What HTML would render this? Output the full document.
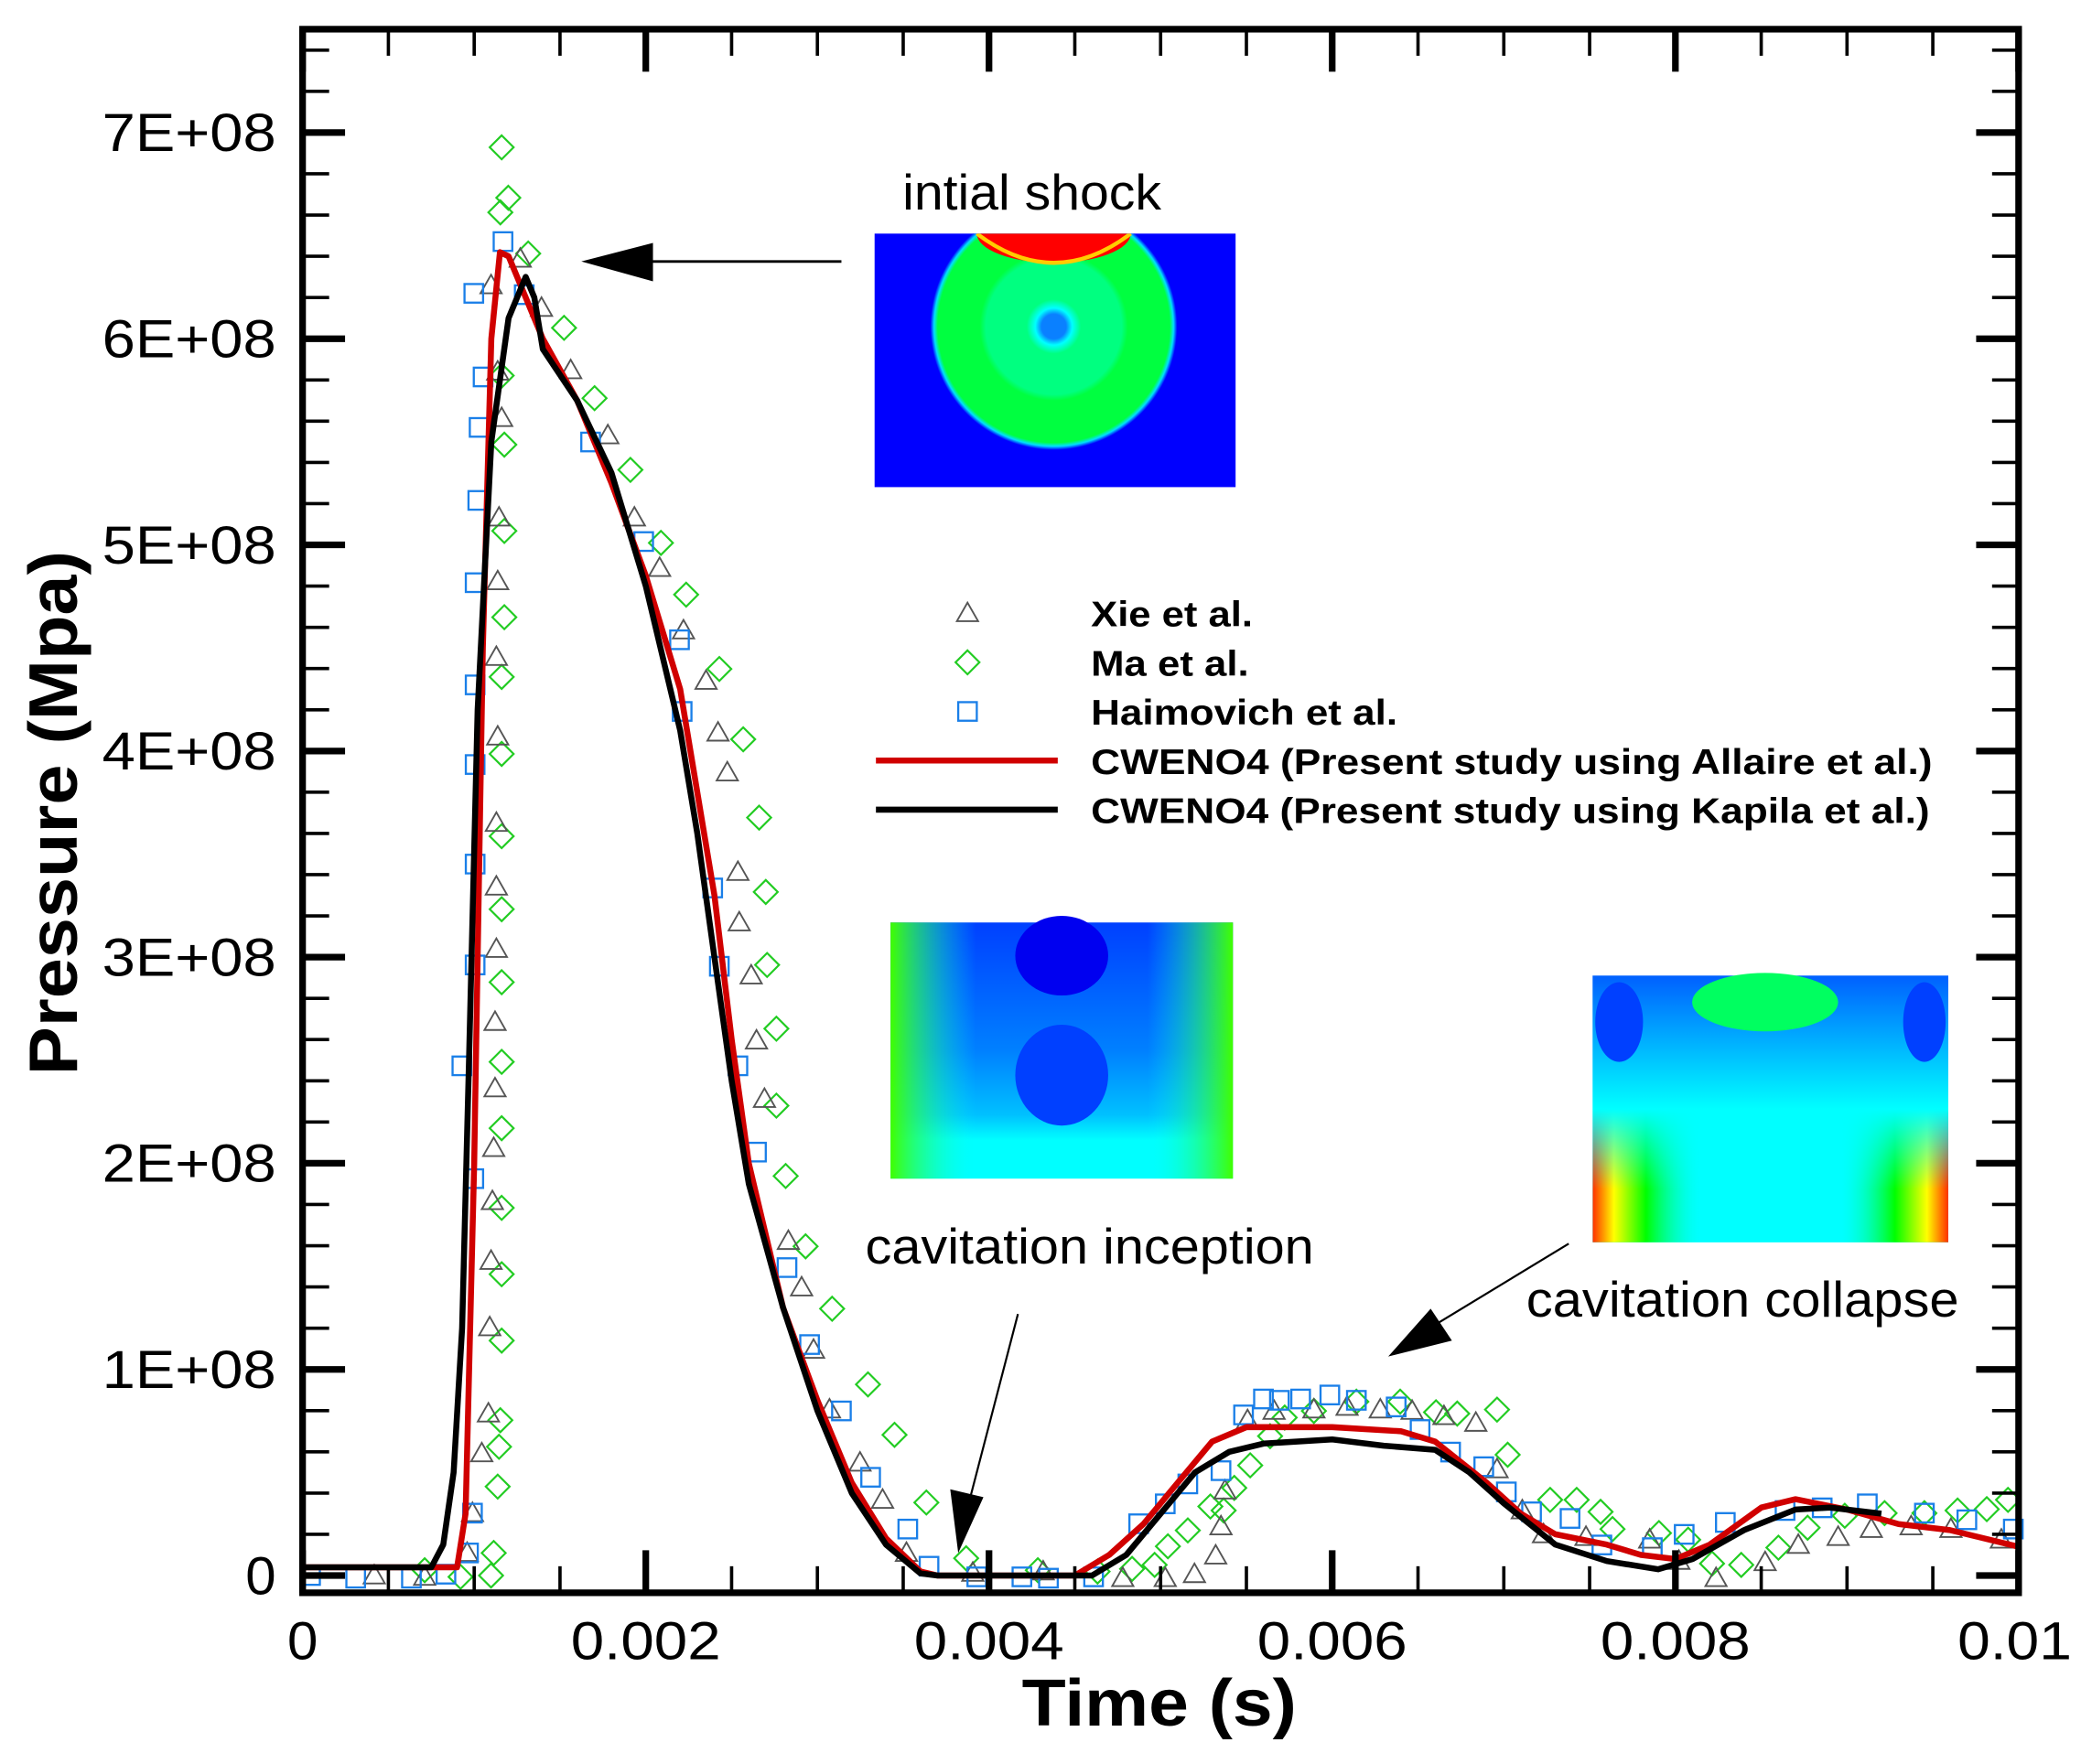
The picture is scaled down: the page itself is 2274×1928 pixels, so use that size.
<!DOCTYPE html>
<html><head><meta charset="utf-8"><style>
html,body{margin:0;padding:0;background:#fff;}
svg{display:block;}
text{font-family:"Liberation Sans",sans-serif;}
</style></head><body>
<svg id="s" width="2274" height="1928" viewBox="0 0 1568 1329" preserveAspectRatio="none" xmlns="http://www.w3.org/2000/svg">
<defs>
<radialGradient id="g1" cx="0.5" cy="0.5" r="0.5">
<stop offset="0" stop-color="#0a80ff"/><stop offset="0.1" stop-color="#0a80ff"/><stop offset="0.15" stop-color="#00ffff"/><stop offset="0.22" stop-color="#00ff80"/><stop offset="0.55" stop-color="#00ff80"/><stop offset="0.6" stop-color="#00ff40"/><stop offset="0.94" stop-color="#00ff40"/><stop offset="0.97" stop-color="#00e0ff"/><stop offset="1" stop-color="#0000ff"/>
</radialGradient>
<linearGradient id="g2" x1="0" y1="0" x2="0" y2="1">
<stop offset="0" stop-color="#0040ff"/><stop offset="0.5" stop-color="#0080ff"/><stop offset="0.75" stop-color="#00c0ff"/><stop offset="0.85" stop-color="#00ffff"/><stop offset="1" stop-color="#00ffff"/>
</linearGradient>
<linearGradient id="g2s" x1="0" y1="0" x2="1" y2="0">
<stop offset="0" stop-color="#40ff00" stop-opacity="1"/><stop offset="0.25" stop-color="#00ffff" stop-opacity="0"/><stop offset="0.75" stop-color="#00ffff" stop-opacity="0"/><stop offset="1" stop-color="#40ff00" stop-opacity="1"/>
</linearGradient>
<linearGradient id="g3" x1="0" y1="0" x2="0" y2="1">
<stop offset="0" stop-color="#0060ff"/><stop offset="0.3" stop-color="#00c0ff"/><stop offset="0.5" stop-color="#00ffff"/><stop offset="1" stop-color="#00ffff"/>
</linearGradient>
<linearGradient id="g3s" x1="0" y1="0" x2="1" y2="0">
<stop offset="0" stop-color="#ff3000"/><stop offset="0.06" stop-color="#ffff00"/><stop offset="0.15" stop-color="#00ff00"/><stop offset="0.3" stop-color="#00ffcc" stop-opacity="0"/><stop offset="0.7" stop-color="#00ffcc" stop-opacity="0"/><stop offset="0.85" stop-color="#00ff00"/><stop offset="0.94" stop-color="#ffff00"/><stop offset="1" stop-color="#ff3000"/>
</linearGradient>
<linearGradient id="g3m" x1="0" y1="0" x2="0" y2="1">
<stop offset="0" stop-color="#fff" stop-opacity="0"/><stop offset="0.5" stop-color="#fff" stop-opacity="0"/><stop offset="0.8" stop-color="#fff" stop-opacity="1"/><stop offset="1" stop-color="#fff" stop-opacity="1"/>
</linearGradient>
<mask id="m3"><rect x="1200" y="735" width="268" height="201" fill="url(#g3m)"/></mask>
<clipPath id="c1"><rect x="659" y="176" width="272" height="191"/></clipPath>
</defs>
<rect x="659" y="176" width="272" height="191" fill="#0000ff"/>
<g clip-path="url(#c1)">
<circle cx="794" cy="246" r="93" fill="url(#g1)"/>
<ellipse cx="794" cy="176" rx="58" ry="22" fill="#ff0000"/>
<path d="M736,176 Q794,220 852,176" fill="none" stroke="#ffcc00" stroke-width="3"/>
</g>
<rect x="671" y="695" width="258" height="193" fill="url(#g2)"/>
<rect x="671" y="695" width="258" height="193" fill="url(#g2s)"/>
<ellipse cx="800" cy="720" rx="35" ry="30" fill="#0000f0"/>
<ellipse cx="800" cy="810" rx="35" ry="38" fill="#0040ff"/>
<rect x="1200" y="735" width="268" height="201" fill="url(#g3)"/>
<rect x="1200" y="735" width="268" height="201" fill="url(#g3s)" mask="url(#m3)"/>
<ellipse cx="1330" cy="755" rx="55" ry="22" fill="#00ff60"/>
<ellipse cx="1220" cy="770" rx="18" ry="30" fill="#0040ff"/>
<ellipse cx="1450" cy="770" rx="16" ry="30" fill="#0040ff"/>
<g id="plot"></g>
<rect x="228" y="22" width="1293" height="1178" fill="none" stroke="#000" stroke-width="5"/>
<g id="ticks" stroke="#000"></g>
<g font-size="40" fill="#000" id="ylab"></g>
<g font-size="40" fill="#000" id="xlab"></g>
<text x="770" y="1300" font-size="50" font-weight="bold" textLength="207" lengthAdjust="spacingAndGlyphs">Time (s)</text>
<text transform="translate(58,810) rotate(-90)" font-size="52" font-weight="bold" textLength="395" lengthAdjust="spacingAndGlyphs">Pressure (Mpa)</text>
<g font-size="27" font-weight="bold">
<text x="822" y="472" textLength="122" lengthAdjust="spacingAndGlyphs">Xie et al.</text>
<text x="822" y="509" textLength="119" lengthAdjust="spacingAndGlyphs">Ma et al.</text>
<text x="822" y="546" textLength="231" lengthAdjust="spacingAndGlyphs">Haimovich et al.</text>
<text x="822" y="583" textLength="634" lengthAdjust="spacingAndGlyphs">CWENO4 (Present study using Allaire et al.)</text>
<text x="822" y="620" textLength="632" lengthAdjust="spacingAndGlyphs">CWENO4 (Present study using Kapila et al.)</text>
</g>
<line x1="660" y1="573" x2="797" y2="573" stroke="#d00000" stroke-width="4.5"/>
<line x1="660" y1="610" x2="797" y2="610" stroke="#000" stroke-width="4.5"/>
<text x="680" y="158" font-size="38" textLength="195" lengthAdjust="spacingAndGlyphs">intial shock</text>
<text x="652" y="952" font-size="38" textLength="338" lengthAdjust="spacingAndGlyphs">cavitation inception</text>
<text x="1150" y="992" font-size="38" textLength="326" lengthAdjust="spacingAndGlyphs">cavitation collapse</text>
<line x1="634" y1="197" x2="470" y2="197" stroke="#000" stroke-width="2"/>
<polygon points="438,197 492,183 492,212" fill="#000"/>
<line x1="767" y1="990" x2="728" y2="1140" stroke="#000" stroke-width="1.5"/>
<polygon points="722,1170 716,1122 741,1128" fill="#000"/>
<line x1="1182" y1="937" x2="1070" y2="1005" stroke="#000" stroke-width="1.5"/>
<polygon points="1046,1022 1078,986 1094,1010" fill="#000"/>
</svg>
<script>
var NS="http://www.w3.org/2000/svg";
function el(p,n,a){var e=document.createElementNS(NS,n);for(var k in a)e.setAttribute(k,a[k]);p.appendChild(e);return e;}
var X=function(t){return 228+t*129.3;}, Y=function(p){return 1187-p*155.3;};
var tk=document.getElementById('ticks');
for(var i=0;i<=20;i++){var x=228+i*64.65;var maj=(i%4==0);var L=maj?32:20,w=maj?5:2.5;
el(tk,'line',{x1:x,y1:1200,x2:x,y2:1200-L,'stroke-width':w});el(tk,'line',{x1:x,y1:22,x2:x,y2:22+L,'stroke-width':w});}
for(var j=0;j<=38;j++){var p=j*0.2;var y=Y(p);if(y<24)break;var maj=(j%5==0);var L=maj?32:20,w=maj?5:2.5;
el(tk,'line',{x1:228,y1:y,x2:228+L,y2:y,'stroke-width':w});el(tk,'line',{x1:1521,y1:y,x2:1521-L,y2:y,'stroke-width':w});}
var yl=document.getElementById('ylab');
for(var k=0;k<=7;k++){var t;if(k==0){t=el(yl,'text',{x:185,y:Y(k)+14,textLength:23,lengthAdjust:'spacingAndGlyphs'});t.textContent="0";}
else{t=el(yl,'text',{x:77,y:Y(k)+14,textLength:131,lengthAdjust:'spacingAndGlyphs'});t.textContent=k+"E+08";}}
var xl=document.getElementById('xlab');var xs=["0","0.002","0.004","0.006","0.008","0.01"];
for(var k=0;k<6;k++){var w=k==0?23:(k==5?86:113);var cx=228+k*258.6;var x0=cx-w/2;if(k==5)x0=1475;
var t=el(xl,'text',{x:x0,y:1250,textLength:w,lengthAdjust:'spacingAndGlyphs'});t.textContent=xs[k];}
var pl=document.getElementById('plot');
var sq=[[234,1187],[268,1189],[310,1189],[336,1186],[348,803],[353,1170],[356,1140],[357,888],[358,727],[358,651],[358,576],[358,516],[358,439],[360,377],[361,322],[364,284],[357,221],[379,182],[395,222],[445,333],[485,408],[512,482],[514,536],[537,669],[542,728],[556,803],[570,868],[593,955],[610,1013],[634,1063],[656,1113],[684,1152],[700,1180],[736,1188],[770,1188],[790,1189],[824,1188],[858,1148],[878,1133],[895,1118],[920,1108],[937,1066],[952,1054],[964,1055],[980,1054],[1002,1051],[1022,1055],[1052,1060],[1070,1077],[1093,1094],[1118,1105],[1135,1124],[1154,1139],[1183,1144],[1207,1164],[1245,1166],[1269,1156],[1300,1147],[1345,1138],[1373,1136],[1407,1133],[1450,1140],[1482,1145],[1517,1152]];
var tr=[[282,1187],[320,1188],[352,1170],[356,1140],[363,1095],[368,1065],[369,1000],[370,950],[371,905],[372,865],[373,820],[373,770],[374,715],[374,668],[374,620],[375,555],[374,495],[375,438],[376,390],[378,315],[375,280],[370,215],[392,195],[408,232],[430,279],[458,328],[478,390],[497,428],[515,475],[532,513],[541,552],[548,582],[556,657],[557,695],[566,735],[570,784],[576,828],[594,935],[604,970],[613,1017],[625,1062],[648,1102],[665,1130],[683,1170],[733,1185],[786,1184],[846,1189],[878,1189],[900,1186],[916,1172],[920,1150],[923,1123],[940,1070],[960,1063],[990,1062],[1015,1060],[1040,1062],[1064,1063],[1088,1067],[1112,1072],[1128,1107],[1147,1138],[1163,1156],[1195,1158],[1243,1160],[1265,1176],[1293,1189],[1330,1177],[1355,1164],[1385,1158],[1410,1152],[1440,1150],[1470,1152],[1508,1160]];
var di=[[320,1183],[347,1188],[370,1187],[372,1170],[375,1120],[376,1090],[377,1070],[378,1010],[378,960],[378,910],[378,850],[378,800],[378,740],[378,685],[378,630],[378,568],[378,510],[380,465],[380,400],[380,335],[378,283],[377,160],[378,111],[383,149],[398,191],[425,247],[448,300],[475,354],[498,409],[517,448],[542,504],[560,557],[572,616],[577,672],[578,727],[585,775],[585,833],[592,886],[607,939],[627,986],[654,1043],[674,1081],[698,1132],[728,1174],[782,1183],[827,1184],[853,1182],[870,1179],[880,1165],[895,1153],[912,1135],[922,1138],[930,1121],[942,1104],[957,1082],[968,1068],[990,1063],[1022,1056],[1055,1056],[1082,1064],[1098,1065],[1128,1062],[1136,1096],[1168,1130],[1188,1130],[1206,1139],[1215,1152],[1250,1155],[1272,1160],[1290,1178],[1312,1179],[1340,1166],[1362,1151],[1390,1142],[1420,1140],[1450,1140],[1475,1138],[1497,1137],[1513,1130]];
function tri(x,y){el(pl,'polygon',{points:(x)+','+(y-8)+' '+(x-8)+','+(y+6)+' '+(x+8)+','+(y+6),fill:'none',stroke:'#555','stroke-width':1.3});}
function dia(x,y){el(pl,'polygon',{points:x+','+(y-9)+' '+(x+9)+','+y+' '+x+','+(y+9)+' '+(x-9)+','+y,fill:'none',stroke:'#22cc22','stroke-width':1.5});}
function squ(x,y){el(pl,'rect',{x:x-7,y:y-7,width:14,height:14,fill:'none',stroke:'#1a7fe8','stroke-width':1.6});}
di.forEach(function(a){dia(a[0],a[1]);});tr.forEach(function(a){tri(a[0],a[1]);});sq.forEach(function(a){squ(a[0],a[1]);});
tri(729,462);dia(729,499);squ(729,536);
var red=[[0,0.04],[0.9,0.04],[0.95,0.3],[1.0,2],[1.05,4.5],[1.1,6],[1.15,6.42],[1.2,6.4],[1.3,6.2],[1.4,6.0],[1.6,5.7],[1.8,5.3],[2.0,4.85],[2.2,4.3],[2.3,3.8],[2.4,3.3],[2.5,2.6],[2.6,2.0],[2.8,1.3],[3.0,0.85],[3.2,0.45],[3.4,0.18],[3.6,0.02],[3.7,0],[4.5,0],[4.7,0.1],[4.9,0.25],[5.1,0.45],[5.3,0.65],[5.5,0.72],[6.0,0.72],[6.4,0.7],[6.6,0.65],[6.9,0.45],[7.1,0.3],[7.3,0.2],[7.6,0.15],[7.8,0.1],[8.0,0.08],[8.2,0.15],[8.5,0.33],[8.7,0.37],[9.0,0.32],[9.3,0.25],[9.6,0.22],[10,0.14]];
var blk=[[0,0.04],[0.75,0.04],[0.82,0.15],[0.88,0.5],[0.93,1.2],[0.97,2.5],[1.02,4.2],[1.1,5.5],[1.2,6.1],[1.3,6.3],[1.35,6.2],[1.4,5.95],[1.6,5.7],[1.8,5.35],[2.0,4.8],[2.2,4.1],[2.3,3.6],[2.4,3.0],[2.5,2.4],[2.6,1.9],[2.8,1.3],[3.0,0.8],[3.2,0.4],[3.4,0.15],[3.6,0.01],[3.7,0],[4.6,0],[4.8,0.1],[5.0,0.3],[5.2,0.5],[5.4,0.6],[5.6,0.64],[6.0,0.66],[6.3,0.63],[6.6,0.61],[6.8,0.5],[7.0,0.35],[7.3,0.15],[7.6,0.07],[7.9,0.03],[8.1,0.08],[8.4,0.22],[8.7,0.32],[8.9,0.33],[9.2,0.3]];
function pts(a){return a.map(function(q){return X(q[0]).toFixed(1)+','+Y(q[1]).toFixed(1);}).join(' ');}
el(pl,'polyline',{points:pts(red),fill:'none',stroke:'#d00000','stroke-width':4.5,'stroke-linejoin':'round'});
el(pl,'polyline',{points:pts(blk),fill:'none',stroke:'#000','stroke-width':4.5,'stroke-linejoin':'round'});
</script>
</body></html>
